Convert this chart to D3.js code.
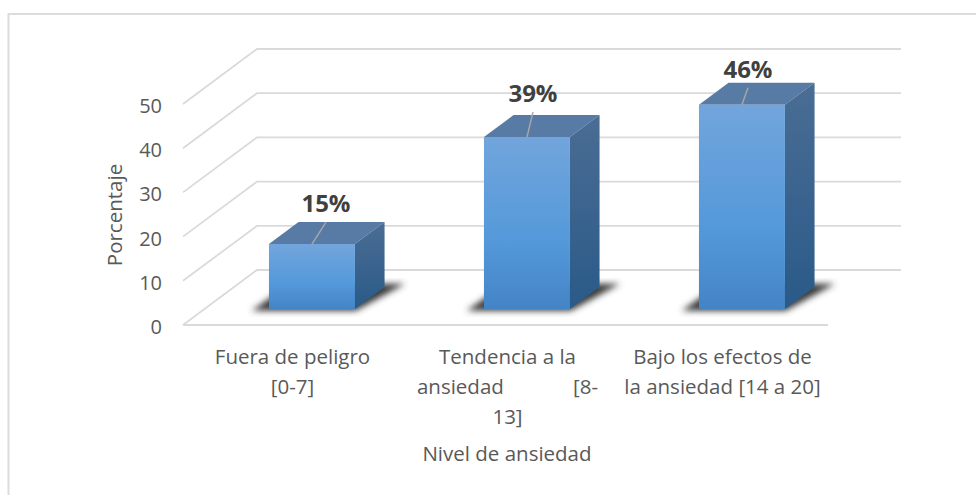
<!DOCTYPE html>
<html>
<head>
<meta charset="utf-8">
<script src="https://cdn.jsdelivr.net/npm/d3@7"></script>
<style>
  html, body { margin: 0; padding: 0; background: #fff; }
  text { font-family: "Open Sans", sans-serif; fill: #595959; }
</style>
</head>
<body>
<div id="chart"></div>
<script>
const categories = ["Fuera de peligro [0-7]", "Tendencia a la ansiedad [8-13]", "Bajo los efectos de la ansiedad [14 a 20]"];
const categoryLines = [
  ["Fuera de peligro", "[0-7]"],
  ["Tendencia a la", "ansiedad\u00a0\u00a0\u00a0\u00a0\u00a0\u00a0\u00a0\u00a0\u00a0\u00a0\u00a0\u00a0\u00a0[8-", "13]"],
  ["Bajo los efectos de", "la ansiedad [14 a 20]"]
];
const values = [14.7, 38.9, 46.2];
const valueLabels = ["15%", "39%", "46%"];
const yTicks = [0, 10, 20, 30, 40, 50];

// leader line ends, moved by hand in the original
const leaderDx = [14, 6, 6];
const leaderDy = [22, 25, 17];

const width = 976, height = 495;
const depthX = 74, depthY = 55;   // front of floor to back wall
const barFront = 0.29, barBack = 0.69;

const svg = d3.select("#chart").append("svg")
    .attr("width", width)
    .attr("height", height)
    .style("display", "block");

const x = d3.scaleBand()
    .domain(categories)
    .range([183, 828])
    .paddingInner(0.6)
    .paddingOuter(0.3);

const y = d3.scaleLinear()
    .domain([0, 50])
    .range([325, 104]);

// x in front plane coords, v is the value, d is how far back (0-1)
function project(px, v, d) {
  return [px + depthX * d, y(v) - depthY * d];
}

const defs = svg.append("defs");

function gradient(id, stops) {
  const g = defs.append("linearGradient").attr("id", id)
      .attr("x1", 0).attr("y1", 0).attr("x2", 0).attr("y2", 1);
  stops.forEach(s => g.append("stop").attr("offset", s[0]).attr("stop-color", s[1]));
}
gradient("frontFill", [[0, "#72a5dc"], [0.6, "#5499da"], [1, "#4484c6"]]);
gradient("sideFill", [[0, "#4a6d94"], [1, "#2a5a88"]]);

defs.append("filter").attr("id", "blur")
    .attr("x", "-20%").attr("y", "-20%").attr("width", "140%").attr("height", "140%")
  .append("feGaussianBlur").attr("stdDeviation", 3);

// chart border, no right or bottom side in the picture
svg.append("path")
    .attr("d", "M8.5,495V14H976")
    .attr("fill", "none")
    .attr("stroke", "#dcdcdc")
    .attr("stroke-width", 2);

// gridlines: wall + side wall
const grid = svg.append("g").attr("fill", "none").attr("stroke", "#dadada").attr("stroke-width", 1.8);
yTicks.forEach(function(t) {
  const a = project(183, t, 0), b = project(183, t, 1), c = project(827, t, 1);
  grid.append("path").attr("d", d3.line()([a, b, c]));
});
grid.append("path").attr("d", d3.line()([project(183, 0, 0), project(828, 0, 0)]));

// y axis, only the labels are visible
const yAxis = svg.append("g")
    .attr("transform", "translate(167,2)")
    .call(d3.axisLeft(y).tickValues(yTicks).tickSize(0).tickPadding(5));
yAxis.select(".domain").remove();
yAxis.selectAll("text").style("font-size", "20px").style("font-family", '"Open Sans", sans-serif').attr("fill", "#595959");

const bars = svg.selectAll(".bar")
    .data(categories)
    .enter().append("g")
    .attr("class", "bar");

bars.each(function(c, i) {
  const g = d3.select(this);
  const x0 = x(c), x1 = x(c) + x.bandwidth(), v = values[i];
  const poly = pts => pts.map(p => p.join(",")).join(" ");

  g.append("polygon")
      .attr("points", poly([project(x0 - 15, 0, 0.26), project(x1 + 3, 0, 0.26), project(x1 + 16, 0, 0.75), project(x0 - 13, 0, 0.75)]))
      .attr("fill", "#3a3a3a")
      .attr("filter", "url(#blur)");

  g.append("polygon")
      .attr("points", poly([project(x0, v, barFront), project(x1, v, barFront), project(x1, v, barBack), project(x0, v, barBack)]))
      .attr("fill", "#587ba5");
  g.append("polygon")
      .attr("points", poly([project(x1, 0, barFront), project(x1, v, barFront), project(x1, v, barBack), project(x1, 0, barBack)]))
      .attr("fill", "url(#sideFill)");
  g.append("polygon")
      .attr("points", poly([project(x0, 0, barFront), project(x1, 0, barFront), project(x1, v, barFront), project(x0, v, barFront)]))
      .attr("fill", "url(#frontFill)");

  // leader line and label
  const top = project(x0 + x.bandwidth() / 2, v, barFront);
  const end = [top[0] + leaderDx[i], top[1] - leaderDy[i]];
  g.append("path")
      .attr("d", d3.line()([top, end]))
      .attr("stroke", "#a6a6a6")
      .attr("stroke-width", 1.5);
  g.append("text")
      .attr("x", end[0])
      .attr("y", end[1] - 10)
      .attr("text-anchor", "middle")
      .style("font-size", "24px")
      .style("font-weight", 700)
      .style("fill", "#404040")
      .text(valueLabels[i]);
});

// category labels
categories.forEach(function(c, i) {
  const t = svg.append("text")
      .attr("text-anchor", "middle")
      .style("font-size", "20.5px");
  categoryLines[i].forEach(function(line, j) {
    t.append("tspan")
        .attr("x", x(c) + x.bandwidth() / 2 + 2)
        .attr("y", 364 + j * 30)
        .text(line);
  });
});

svg.append("text")
    .attr("x", 507)
    .attr("y", 461)
    .attr("text-anchor", "middle")
    .style("font-size", "20.5px")
    .text("Nivel de ansiedad");

svg.append("text")
    .attr("transform", "translate(122,215)rotate(-90)")
    .attr("text-anchor", "middle")
    .style("font-size", "20.5px")
    .text("Porcentaje");
</script>
</body>
</html>
